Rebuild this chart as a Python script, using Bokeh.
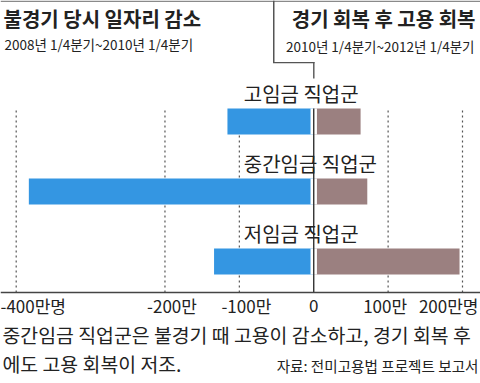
from bokeh.plotting import figure
from bokeh.models import Range1d, Label, BoxAnnotation, Span
from bokeh.core.properties import value
from bokeh.embed import file_html
from bokeh.resources import INLINE

# ---- data (만명) ----
categories = ["고임금 직업군", "중간임금 직업군", "저임금 직업군"]
recession = [-116, -383, -134]   # 2008 1/4분기 ~ 2010 1/4분기
recovery = [63, 72, 196]         # 2010 1/4분기 ~ 2012 1/4분기
tick_values = [-400, -200, -100, 0, 100, 200]
tick_labels = ["-400만명", "-200만", "-100만", "0", "100만", "200만명"]
grid_values = [-400, -200, -100, 100, 200]

title_left = "불경기 당시 일자리 감소"
sub_left = "2008년 1/4분기~2010년 1/4분기"
title_right = "경기 회복 후 고용 회복"
sub_right = "2010년 1/4분기~2012년 1/4분기"
note1 = "중간임금 직업군은 불경기 때 고용이 감소하고, 경기 회복 후"
note2 = "에도 고용 회복이 저조."
source_text = "자료: 전미고용법 프로젝트 보고서"

# ---- style ----
W, H = 480, 383
FONT = "Noto Sans CJK KR"
BLUE = "#3496e2"
BROWN = "#9b8080"
INK = "#222222"
bar_h = 0.37

n = len(categories)
ypos = [n - 1 - i for i in range(n)]
y_start, y_end = -1.743, 3.729
axis_y = -0.443
bar_top = max(ypos) + bar_h / 2

p = figure(width=W, height=H, output_backend="svg", toolbar_location=None,
           x_range=Range1d(-421.1, 224.2), y_range=Range1d(y_start, y_end),
           x_axis_type=None, y_axis_type=None, min_border=0)
p.outline_line_color = None
p.background_fill_color = "white"
p.border_fill_color = "white"

# dotted grid
p.segment(x0=grid_values, x1=grid_values, y0=[axis_y] * len(grid_values),
          y1=[bar_top + 0.015] * len(grid_values),
          line_color="#555555", line_width=1.2, line_dash="2 3")

# bars
p.hbar(y=ypos, left=recession, right=0, height=bar_h, fill_color=BLUE, line_color=None)
p.hbar(y=ypos, left=0, right=recovery, height=bar_h, fill_color=BROWN, line_color=None)

# white gap around zero line
p.rect(x=0, y=ypos, width=6.4, width_units="screen", height=bar_h,
       fill_color="white", line_color=None)
# zero line
p.segment(x0=[0], x1=[0], y0=[axis_y], y1=[bar_top], line_color="#333333", line_width=1.4)

# axis line
p.add_layout(Span(location=axis_y, dimension="width", line_color="#444444", line_width=1.3))

# category labels
p.text(x=0, y=[v + 0.4 for v in ypos], text=categories, x_offset=-70,
       text_align="left", text_baseline="middle",
       text_font=value(FONT), text_font_size="20px", text_color=INK)

# tick labels
aligns = ["left", "center", "center", "center", "center", "right"]
offs = [-15.7, 7, 7, 0, -3, 16]
p.text(x=tick_values, y=[axis_y] * len(tick_values), text=tick_labels,
       x_offset=offs, y_offset=13, text_align=aligns, text_baseline="middle",
       text_font=value(FONT), text_font_size="17px", text_color=INK)

def lab(x, y, t, size, align="left", bold=False):
    p.add_layout(Label(x=x, y=y, x_units="canvas", y_units="canvas", text=t,
                       text_align=align, text_baseline="middle",
                       text_font=FONT, text_font_size=size, text_color=INK,
                       text_font_style="bold" if bold else "normal"))

lab(3, 17.5, title_left, "20px", bold=True)
lab(4, 43.5, sub_left, "13.5px")
lab(475, 17.5, title_right, "20px", align="right", bold=True)
lab(474, 45, sub_right, "13.5px", align="right")
lab(2, 333.5, note1, "19.4px")
lab(2, 362.5, note2, "19.4px")
lab(478, 364.5, source_text, "14.6px", align="right")

def box(l, r, t, b, color):
    p.add_layout(BoxAnnotation(left=l, right=r, top=t, bottom=b,
                               left_units="canvas", right_units="canvas",
                               top_units="canvas", bottom_units="canvas",
                               fill_color=color, fill_alpha=1.0, line_alpha=0))

box(0, 480, 0, 1.5, "#8a8a8a")
box(272.5, 274, 0, 62.5, "#555555")
box(272.5, 314, 61.5, 62.8, "#555555")
box(312.6, 314, 61.5, 78, "#555555")

open("out.html", "w").write(file_html(p, INLINE))
